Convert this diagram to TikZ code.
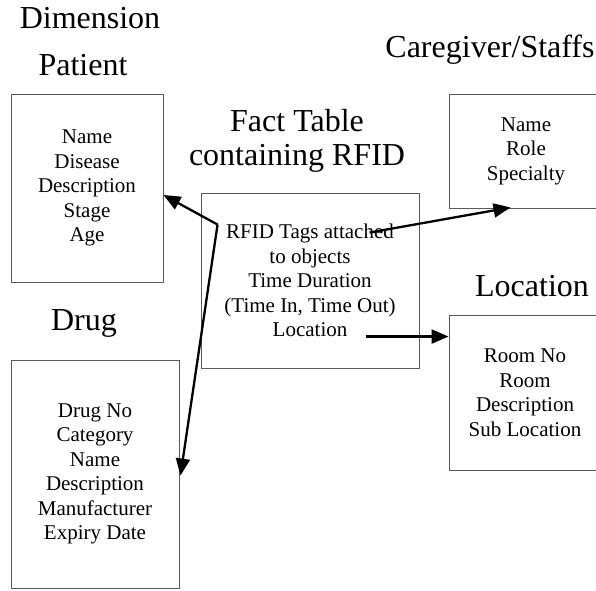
\documentclass[tikz,border=0pt]{standalone}
\usepackage{fontspec}
\setmainfont{Liberation Serif}
\usetikzlibrary{arrows.meta,calc}
\begin{document}
\begin{tikzpicture}[x=1pt,y=-1pt,
  box/.style={draw=black!65,line width=0.9pt,inner sep=0pt,align=center,
    font=\fontsize{21}{24.5}\selectfont},
  ttl/.style={inner sep=0pt,anchor=base,font=\fontsize{32}{36}\selectfont},
  conn/.style={line width=2.3pt,-{Triangle[length=17pt,width=14pt]}}]
\useasboundingbox (0,0) rectangle (596,590);
\clip (0,0) rectangle (596,590);
% titles
\node[ttl] (tdim) at (90,28) {Dimension};
\node[ttl] (tpat) at (83,75) {Patient};
\node[ttl] (tfact1) at (297,131) {Fact Table};
\node[ttl] (tfact2) at (297,165) {containing RFID};
\node[ttl] (tcare) at (490,57) {Caregiver/Staffs};
\node[ttl] (tloc) at (532,296) {Location};
\node[ttl] (tdrug) at (84,330) {Drug};
% boxes
\node[box,minimum width=152pt,minimum height=188pt] (pat) at (87,188)
  {Name\\Disease\\Description\\Stage\\Age};
\node[box,minimum width=218pt,minimum height=175pt] (fact) at (310,280.5)
  {RFID Tags attached\\to objects\\Time Duration\\(Time In, Time Out)\\Location};
\node[box,minimum width=154pt,minimum height=114pt] (care) at (526,151)
  {Name\\Role\\Specialty};
\node[box,minimum width=152pt,minimum height=155pt] (loc) at (525,392.5)
  {Room No\\Room\\Description\\Sub Location};
\node[box,minimum width=168pt,minimum height=228pt] (drug) at (95,474)
  {Drug No\\Category\\Name\\Description\\Manufacturer\\Expiry Date};
% connector anchors
\coordinate (s1) at ($(fact.north west)+(17,32)$);
\coordinate (s2) at ($(fact.north west)+(169,40)$);
\coordinate (s3) at ($(fact.north west)+(165,144)$);
\coordinate (e2) at ($(care.south west)+(62,-1)$);
\coordinate (e4) at ($(drug.north east)+(1,116)$);
\draw[conn] (s1) -- (pat.east |- 0,195);
\draw[conn] (s1) -- (e4);
\draw[conn] (s2) -- (e2);
\draw[conn] (s3) -- (loc.west |- s3);
\end{tikzpicture}
\end{document}
